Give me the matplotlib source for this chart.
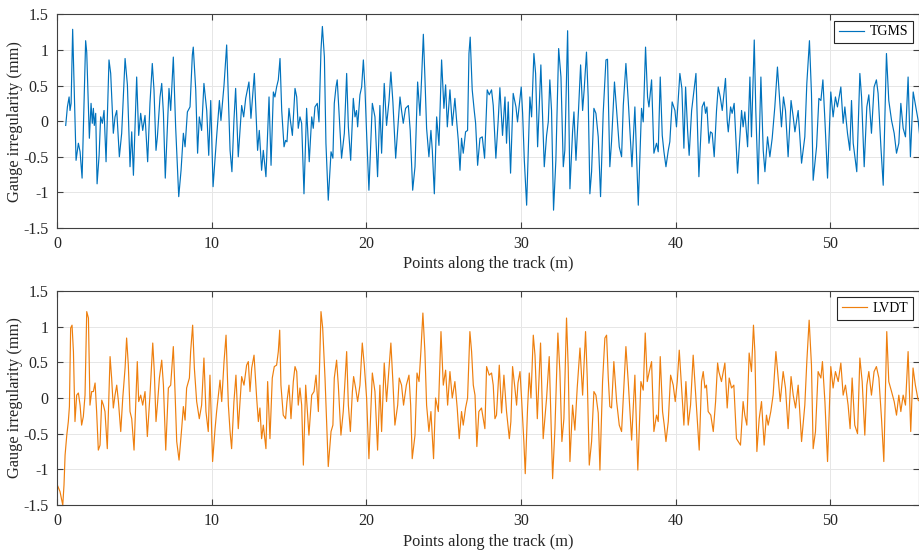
import numpy as np
import matplotlib
matplotlib.use("Agg")
import matplotlib.pyplot as plt

# values (position in m, irregularity in mm)
tgms_x = [0.56, 0.67, 0.78, 0.84, 0.91, 1.01, 1.23, 1.38, 1.49, 1.62, 1.85, 1.92, 2.09, 2.20, 2.28, 2.35, 2.41, 2.50, 2.59, 2.72,
          2.82, 2.93, 3.04, 3.17, 3.36, 3.47, 3.64, 3.75, 3.86, 4.03, 4.18, 4.40, 4.55, 4.72, 4.83, 4.94, 5.15, 5.28, 5.41, 5.54,
          5.69, 5.86, 6.01, 6.16, 6.27, 6.40, 6.49, 6.66, 6.77, 6.88, 7.00, 7.24, 7.35, 7.52, 7.67, 7.87, 8.02, 8.17, 8.28, 8.43,
          8.60, 8.75, 8.81, 8.97, 9.09, 9.20, 9.35, 9.50, 9.68, 9.81, 9.94, 10.09, 10.32, 10.50, 10.60, 10.80, 10.97, 11.19, 11.31, 11.44,
          11.55, 11.72, 11.94, 12.07, 12.20, 12.41, 12.54, 12.76, 12.97, 13.08, 13.23, 13.34, 13.51,
          13.71, 13.84, 13.99, 14.09, 14.20, 14.31, 14.42, 14.53, 14.68, 14.78, 14.87, 15.00, 15.09, 15.22, 15.39, 15.50, 15.60, 15.71,
          15.82, 15.97, 16.14, 16.31, 16.47, 16.57, 16.68, 16.83, 16.94, 17.07, 17.16, 17.29, 17.39, 17.54, 17.72, 17.84, 17.93, 18.04,
          18.12, 18.23, 18.40, 18.58, 18.73, 18.84, 18.99, 19.16, 19.27, 19.37, 19.44, 19.59, 19.70, 19.81, 19.91, 20.02, 20.17, 20.39,
          20.56, 20.73, 20.88, 20.99, 21.16, 21.31, 21.47, 21.59, 21.72, 21.90, 22.03, 22.18, 22.28, 22.39, 22.54, 22.72, 22.84, 23.00,
          23.15, 23.32, 23.47, 23.58, 23.69, 23.79, 23.90, 24.05, 24.18, 24.27, 24.40, 24.55, 24.70, 24.87, 25.02, 25.13, 25.24, 25.41,
          25.56, 25.73, 25.84, 25.95, 26.06, 26.16, 26.27, 26.42, 26.55, 26.64, 26.72, 26.85, 26.98, 27.07, 27.20, 27.35, 27.50,
          27.65, 27.82, 27.95, 28.10, 28.21, 28.38, 28.53, 28.64, 28.81, 28.97, 29.07, 29.18, 29.33, 29.50, 29.68, 29.78, 29.87, 30.02,
          30.11, 30.22, 30.37, 30.52, 30.58, 30.69, 30.84, 30.95, 31.08, 31.29, 31.51, 31.66, 31.77, 31.87, 31.98, 32.11, 32.26, 32.44,
          32.59, 32.74, 32.84, 33.02, 33.17, 33.34, 33.43, 33.56, 33.73, 33.86, 33.99, 34.09, 34.24, 34.35, 34.46, 34.57, 34.72, 34.85,
          35.00, 35.15, 35.32, 35.50, 35.60, 35.75, 35.86, 36.05, 36.19, 36.36, 36.51, 36.62, 36.79, 36.94, 37.18, 37.37, 37.59, 37.80,
          37.91, 38.06, 38.19, 38.28, 38.45, 38.60, 38.77, 38.88, 39.01, 39.14, 39.25, 39.38, 39.53, 39.63, 39.78, 39.96, 40.06, 40.17,
          40.28, 40.41, 40.54, 40.65, 40.78, 40.88, 41.04, 41.32,
          41.51, 41.72, 41.85, 41.94, 42.03, 42.16, 42.26, 42.37, 42.50, 42.65, 42.76, 42.89, 43.02, 43.23, 43.34, 43.41, 43.56, 43.66,
          43.79, 44.01, 44.27, 44.37, 44.48, 44.66, 44.81, 44.91, 45.09, 45.19, 45.34, 45.52, 45.67, 45.78, 45.95, 46.10, 46.25, 46.42,
          46.59, 46.75, 46.85, 46.98, 47.11, 47.28, 47.47, 47.61, 47.72, 47.93, 48.15, 48.36, 48.49, 48.66, 48.79, 48.90, 49.12, 49.27,
          49.40, 49.53, 49.66, 49.83, 50.04, 50.19, 50.34, 50.47, 50.69, 50.84, 50.95, 51.12, 51.27, 51.38, 51.49, 51.72, 51.92, 52.03,
          52.20, 52.37, 52.50, 52.67, 52.84, 52.99, 53.10, 53.28, 53.43, 53.64, 53.79, 53.97, 54.14, 54.29, 54.44, 54.57, 54.72, 54.87,
          55.04, 55.19, 55.37, 55.54, 55.69, 55.80]
tgms_y = [-0.06, 0.20, 0.34, 0.15, 0.25, 1.29, -0.55, -0.31, -0.43, -0.80, 1.13, 0.97, -0.24, 0.25, -0.03, 0.18, -0.06, 0.11, -0.88, -0.48,
          0.06, -0.03, 0.15, -0.57, 0.86, 0.67, -0.17, 0.06, 0.15, -0.50, -0.17, 0.88, 0.51, -0.64, -0.15, -0.76, 0.62, -0.20, 0.11, -0.13,
          0.08, -0.57, 0.25, 0.81, 0.44, -0.41, -0.22, 0.34, 0.53, 0.11, -0.80, 0.46, 0.15, 0.90, -0.08, -1.06, -0.69, -0.17, -0.36, 0.13,
          0.20, 0.93, 1.04, 0.44, -0.45, 0.06, -0.13, 0.53, 0.15, -0.48, 0.29, -0.92, -0.22, 0.29, 0.01, 0.51, 1.07, -0.41, -0.71, 0.01,
          0.46, -0.50, 0.22, 0.06, 0.32, 0.55, 0.04, 0.67, -0.41, -0.13, -0.69, -0.41, -0.78,
          0.34, -0.62, 0.41, 0.34, 0.48, 0.58, 0.88, 0.15, -0.36, -0.27, -0.29, 0.18, 0.01, -0.20, 0.46, 0.34, -0.10, 0.06,
          -0.03, -1.02, 0.18, -0.57, 0.06, -0.10, 0.20, 0.25, -0.01, 1.00, 1.33, 0.90, -0.31, -1.11, -0.43, -0.52, 0.25, 0.48,
          0.58, 0.15, -0.52, -0.17, 0.67, -0.08, -0.55, 0.32, 0.06, 0.15, -0.08, 0.37, 0.48, 0.86, 0.48, -0.17, -0.97, 0.25,
          0.06, -0.78, 0.22, -0.45, 0.53, -0.06, 0.29, 0.69, 0.27, -0.52, -0.13, 0.34, 0.15, -0.03, 0.18, 0.22, -0.13, -0.97,
          -0.64, 0.55, 0.08, 0.62, 1.22, 0.62, -0.10, -0.50, -0.13, -0.41, -1.02, 0.06, -0.34, 0.86, 0.18, 0.51, -0.08, 0.44,
          -0.06, 0.32, 0.01, -0.27, -0.69, -0.24, -0.45, -0.15, -0.13, 0.95, 1.18, 0.44, 0.15, -0.03, -0.62, -0.24, -0.22,
          -0.52, 0.44, 0.37, 0.44, 0.22, -0.52, 0.01, 0.47, -0.20, 0.34, -0.31, 0.27, -0.73, 0.39, 0.20, -0.01, 0.18, 0.48,
          0.11, -0.55, -1.18, -0.13, 0.34, 0.06, 0.95, 0.67, -0.36, 0.79, -0.64, -0.20, -0.01, 0.58, 0.15, -1.25, -0.55, 1.02,
          0.62, -0.64, -0.41, 1.27, -0.95, -0.15, 0.13, -0.55, 0.18, 0.79, 0.15, 0.44, 0.97, 0.34, -1.02, -0.71, 0.18, 0.11,
          -0.22, -1.06, 0.11, 0.86, 0.87, -0.64, -0.29, 0.55, 0.15, -0.36, -0.50, 0.22, 0.81, 0.29, -0.64, 0.20, -1.18, 0.18,
          -0.01, 1.04, 0.34, 0.20, 0.58, -0.45, -0.31, -0.43, 0.62, -0.20, -0.43, -0.64, -0.41, -0.29, 0.27, 0.15, -0.08, 0.29,
          0.67, 0.46, -0.38, 0.48, -0.13, -0.48, 0.15, 0.67,
          -0.78, 0.20, 0.27, 0.11, 0.20, -0.31, -0.15, -0.17, -0.50, 0.15, 0.48, 0.34, 0.15, 0.60, 0.01, -0.15, 0.20, 0.11,
          0.25, -0.73, 0.15, -0.08, 0.13, -0.36, 0.62, -0.22, 1.14, 0.15, -0.88, 0.62, -0.41, -0.71, -0.22, -0.50, -0.24, 0.20,
          0.76, 0.25, -0.08, 0.34, 0.15, -0.50, 0.29, 0.06, -0.15, 0.15, -0.59, -0.22, 0.53, 1.13, 0.39, -0.83, -0.36, 0.32,
          0.29, 0.58, 0.01, -0.80, 0.41, 0.06, 0.34, 0.20, 0.48, -0.03, 0.20, -0.17, -0.41, 0.29, -0.31, -0.71, 0.67, 0.34,
          -0.64, 0.20, 0.37, -0.17, 0.48, 0.58, 0.39, -0.36, -0.90, 0.95, 0.29, 0.01, -0.17, -0.45, -0.31, 0.25, -0.10, -0.22,
          0.62, -0.50, 0.41, 0.20, 0.01, -0.22]

lvdt_x = [0.00, 0.02, 0.19, 0.30, 0.37, 0.45, 0.52, 0.63, 0.73, 0.80, 0.88, 0.97, 1.06, 1.16, 1.27, 1.38, 1.49, 1.59, 1.70, 1.81,
          1.92, 2.03, 2.13, 2.24, 2.35, 2.46, 2.56, 2.67, 2.78, 2.89, 3.00, 3.10, 3.25, 3.43, 3.53, 3.64, 3.75, 3.86, 3.97, 4.12,
          4.25, 4.40, 4.50, 4.61, 4.72, 4.83, 4.98, 5.19, 5.28, 5.41, 5.54, 5.69, 5.84, 6.01, 6.19, 6.29, 6.40, 6.49, 6.62, 6.77,
          6.88, 7.03, 7.20, 7.35, 7.52, 7.63, 7.74, 7.89, 8.06, 8.17, 8.28, 8.38, 8.56, 8.64, 8.77, 8.88, 9.03, 9.20, 9.35, 9.50,
          9.63, 9.78, 9.89, 10.06, 10.22, 10.32, 10.54, 10.65, 10.80, 10.93, 11.08, 11.19, 11.29, 11.44, 11.57, 11.72, 11.94, 12.09,
          12.26, 12.37, 12.48, 12.59, 12.74, 12.91, 13.02, 13.12, 13.23, 13.34, 13.51,
          13.62, 13.77, 13.92, 14.05, 14.20, 14.31, 14.40, 14.48, 14.63, 14.78, 14.87, 15.00, 15.13, 15.28, 15.39, 15.50, 15.60, 15.71,
          15.82, 15.93, 16.08, 16.29, 16.47, 16.62, 16.75, 16.90, 17.07, 17.18, 17.33, 17.44, 17.54, 17.72, 17.84, 17.93, 18.08, 18.19,
          18.36, 18.51, 18.73, 18.84, 18.97, 19.10, 19.18, 19.31, 19.44, 19.59, 19.74, 19.87, 20.02, 20.17, 20.39, 20.56, 20.73, 20.88,
          20.99, 21.16, 21.31, 21.47, 21.59, 21.72, 21.85, 22.03, 22.13, 22.28, 22.41, 22.59, 22.76, 22.87, 22.97, 23.15, 23.28, 23.41,
          23.53, 23.66, 23.79, 23.90, 24.05, 24.18, 24.35, 24.48, 24.66, 24.83, 24.98, 25.13, 25.26, 25.41, 25.56, 25.73, 25.88, 26.01,
          26.16, 26.27, 26.42, 26.55, 26.70, 26.81, 26.92, 27.03, 27.15, 27.28, 27.45,
          27.67, 27.78, 27.95, 28.10, 28.21, 28.32, 28.42, 28.53, 28.60, 28.75, 28.90, 29.07, 29.25, 29.35, 29.46, 29.61, 29.72, 29.81,
          29.94, 30.04, 30.19, 30.28, 30.43, 30.54, 30.65, 30.80, 30.91, 31.06, 31.27, 31.44, 31.66, 31.83, 31.92, 32.05, 32.20, 32.39,
          32.52, 32.65, 32.78, 32.95, 33.06, 33.17, 33.34, 33.49, 33.64, 33.82, 33.99, 34.18, 34.29, 34.42, 34.57, 34.72, 34.85, 35.00,
          35.11, 35.28, 35.43, 35.54, 35.65, 35.75, 35.86, 36.01, 36.19, 36.36, 36.51, 36.62, 36.79, 36.94, 37.16, 37.37, 37.56, 37.76,
          37.91, 38.04, 38.17, 38.30, 38.45, 38.60, 38.77, 38.88, 39.01, 39.16, 39.27, 39.38, 39.53, 39.68, 39.85, 39.98, 40.11, 40.24,
          40.39, 40.54, 40.67, 40.82, 40.97, 41.14, 41.25, 41.53,
          41.68, 41.79, 41.90, 42.00, 42.11, 42.28, 42.44, 42.59, 42.72, 42.80, 42.97, 43.19, 43.34, 43.47, 43.62, 43.77, 43.94, 44.20,
          44.37, 44.48, 44.61, 44.76, 44.91, 45.04, 45.13, 45.26, 45.41, 45.56, 45.73, 45.88, 45.99, 46.16, 46.31, 46.49, 46.64, 46.77,
          46.96, 47.11, 47.28, 47.47, 47.61, 47.76, 47.93, 48.15, 48.36, 48.49, 48.64, 48.79, 48.90, 49.05, 49.22, 49.40, 49.50, 49.66,
          49.83, 50.04, 50.19, 50.34, 50.52, 50.69, 50.84, 50.99, 51.16, 51.29, 51.42, 51.59, 51.77, 51.92, 52.07, 52.24, 52.37, 52.50,
          52.67, 52.84, 52.99, 53.15, 53.32, 53.47, 53.66, 53.79, 53.97, 54.14, 54.29, 54.44, 54.57, 54.72, 54.87, 55.04, 55.21, 55.36,
          55.51, 55.69, 55.80]
lvdt_y = [-0.19, -1.22, -1.31, -1.43, -1.50, -1.22, -0.80, -0.52, -0.33, -0.12, 0.98, 1.02, 0.65, -0.33, 0.04, 0.07, -0.10, -0.38, -0.26, 0.04,
          1.21, 1.12, -0.10, 0.09, 0.09, 0.21, -0.19, -0.73, -0.66, -0.03, -0.10, -0.19, -0.71, 0.58, 0.28, -0.14, 0.04, 0.18, -0.05, -0.47,
          0.00, 0.42, 0.84, 0.46, -0.19, -0.29, -0.73, 0.51, -0.05, 0.04, -0.10, 0.09, -0.54, 0.04, 0.77, 0.37, -0.33, -0.10, 0.28, 0.53,
          0.18, -0.73, 0.14, 0.18, 0.72, 0.09, -0.61, -0.87, -0.43, -0.12, -0.31, 0.14, 0.28, 0.65, 1.02, 0.42, -0.05, -0.29, -0.10, 0.56,
          -0.19, -0.47, 0.32, -0.89, -0.43, -0.19, 0.25, -0.05, 0.51, 0.88, -0.10, -0.47, -0.71, -0.05, 0.32, -0.43, 0.30, 0.18,
          0.46, 0.51, 0.09, 0.42, 0.60, 0.00, -0.33, -0.14, -0.57, -0.38, -0.71,
          0.23, -0.57, 0.28, 0.44, 0.46, 0.65, 0.95, 0.18, -0.24, -0.29, -0.05, 0.18, -0.29, 0.23, 0.44, 0.37, -0.10, 0.14,
          -0.10, -0.94, 0.18, -0.52, 0.04, 0.09, 0.32, -0.19, 1.21, 0.98, 0.28, -0.38, -0.96, -0.47, -0.38, 0.28, 0.53, 0.18,
          -0.52, -0.19, 0.65, -0.10, -0.47, 0.09, 0.30, 0.14, -0.05, 0.18, 0.77, 0.46, 0.00, -0.85, 0.35, 0.09, -0.73, 0.18,
          -0.47, 0.49, -0.05, 0.42, 0.77, 0.23, -0.38, -0.10, 0.28, 0.18, -0.10, 0.18, 0.32, -0.10, -0.85, -0.52, 0.35, 0.23,
          0.65, 1.19, 0.65, -0.10, -0.47, -0.19, -0.85, 0.00, -0.19, 0.93, 0.18, 0.39, -0.10, 0.37, 0.00, 0.23, -0.14, -0.57,
          -0.19, -0.38, -0.14, 0.00, 0.93, 0.65, 0.18, 0.04, -0.68, -0.19, -0.14,
          -0.43, 0.44, 0.32, 0.35, 0.18, -0.29, -0.24, 0.18, 0.46, -0.21, 0.32, -0.19, -0.57, -0.33, 0.44, 0.14, -0.10, 0.21,
          0.37, 0.00, -0.61, -1.06, -0.14, 0.35, 0.00, 0.88, 0.60, -0.29, 0.77, -0.57, 0.00, 0.58, -0.14, -1.13, -0.43, 0.91,
          0.37, -0.61, -0.29, 1.12, 0.42, -0.89, -0.10, -0.45, 0.14, 0.70, 0.04, 0.93, 0.28, -0.94, -0.61, 0.09, 0.04, -0.21,
          -1.01, 0.23, 0.84, 0.88, 0.28, -0.12, -0.14, 0.51, -0.05, -0.38, -0.47, 0.00, 0.72, 0.23, -0.59, 0.32, -1.01, 0.23,
          0.11, 0.91, 0.23, 0.37, 0.51, -0.47, -0.24, -0.33, 0.58, -0.19, -0.38, -0.61, -0.33, 0.32, 0.18, -0.05, 0.23, 0.67,
          0.14, -0.38, 0.23, -0.38, -0.10, 0.60, 0.23, -0.73,
          0.23, 0.37, 0.14, 0.18, -0.19, -0.24, -0.47, -0.05, 0.49, 0.37, 0.23, 0.49, -0.14, 0.28, 0.14, 0.18, -0.57, -0.66,
          -0.05, -0.24, -0.38, 0.63, 0.37, 1.02, 0.65, -0.75, -0.29, -0.05, -0.66, -0.24, -0.38, -0.19, 0.04, 0.65, 0.28, -0.05,
          0.37, 0.14, -0.43, 0.30, 0.04, -0.14, 0.18, -0.61, -0.10, 0.51, 1.09, 0.46, -0.71, -0.47, 0.37, 0.28, 0.51, -0.05,
          -0.89, 0.44, 0.14, 0.37, 0.23, 0.49, 0.04, 0.18, -0.10, -0.43, 0.28, -0.38, -0.50, 0.56, 0.23, -0.52, 0.18, 0.37,
          0.04, 0.37, 0.44, 0.28, -0.29, -0.89, 0.93, 0.23, 0.09, -0.05, -0.24, 0.04, -0.19, 0.04, -0.10, 0.65, -0.47, 0.42,
          0.18, -0.03, -0.05]

xticks = [0, 10, 20, 30, 40, 50]
yticks = [-1.5, -1, -0.5, 0, 0.5, 1, 1.5]
ytick_labels = ["-1.5", "-1", "-0.5", "0", "0.5", "1", "1.5"]

plt.rcParams['font.family'] = ['Liberation Serif', 'DejaVu Serif']

fig = plt.figure(figsize=(9.2, 5.52), dpi=100)
ax1 = fig.add_axes([0.062, 0.587, 0.937, 0.387])
ax2 = fig.add_axes([0.062, 0.085, 0.937, 0.388])

series = [(ax1, tgms_x, tgms_y, '#0072BD', 'TGMS'),
          (ax2, lvdt_x, lvdt_y, '#EE7F0E', 'LVDT')]

for ax, x, y, col, name in series:
    ax.plot(x, y, color=col, lw=0.85, label=name)
    ax.set_xlim(0, 55.75)
    ax.set_ylim(-1.5, 1.5)
    ax.set_xticks(xticks)
    ax.set_yticks(yticks)
    ax.set_yticklabels(ytick_labels)
    ax.grid(True, color='#e6e6e6', lw=0.7)
    ax.set_axisbelow(True)
    ax.tick_params(direction='in', top=True, right=True, length=4,
                   color='#404040', labelcolor='#262626', labelsize=11.5)
    ax.tick_params(axis='x', pad=6)
    ax.tick_params(axis='y', pad=6)
    for sp in ax.spines.values():
        sp.set_color('#404040')
        sp.set_linewidth(0.8)
    ax.set_xlabel('Points along the track (m)', color='#262626', fontsize=11.8, labelpad=3)
    ax.set_ylabel('Gauge irregularity (mm)', color='#262626', fontsize=11.8, labelpad=0)
    leg = ax.legend(loc='upper right', fancybox=False, framealpha=1,
                    edgecolor='#262626', handlelength=1.8, handletextpad=0.4,
                    borderaxespad=0.45, borderpad=0.35, fontsize=10)
    leg.get_frame().set_linewidth(0.8)

fig.savefig('out.png', dpi=100)
